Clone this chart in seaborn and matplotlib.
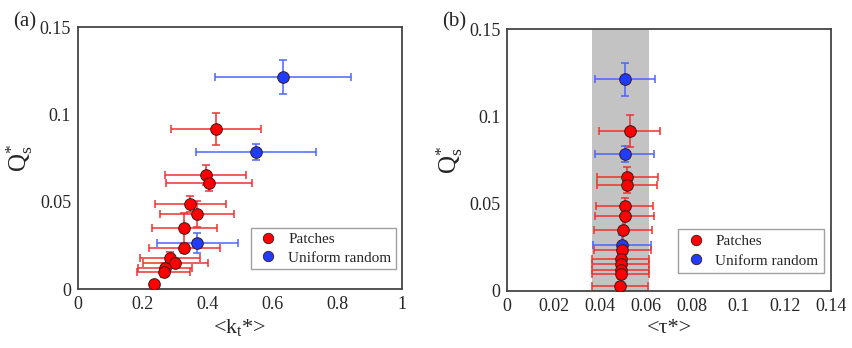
import numpy as np
import pandas as pd
import matplotlib
matplotlib.use("Agg")
import matplotlib.pyplot as plt
import seaborn as sns

# ---- data ----
groups = ["Patches", "Uniform random"]

red_Q = [0.0916, 0.0653, 0.0607, 0.0485, 0.0429, 0.0347, 0.0236, 0.0180, 0.0151, 0.0119, 0.0098, 0.0029]
red_Q_err = [0.0092, 0.0058, 0.0048, 0.0045, 0.0075, 0.0090, 0.0030, 0.0030, 0.0020, 0.0030, 0.0030, 0.0]
red_k = [0.427, 0.394, 0.404, 0.347, 0.368, 0.328, 0.328, 0.285, 0.300, 0.269, 0.265, 0.234]
red_k_err = [0.139, 0.126, 0.133, 0.110, 0.115, 0.100, 0.110, 0.093, 0.100, 0.083, 0.082, 0.0]
red_tau = [0.0530, 0.0519, 0.0517, 0.0507, 0.0508, 0.0500, 0.0497, 0.0491, 0.0491, 0.0491, 0.0491, 0.0488]
red_tau_err = [0.0132, 0.0132, 0.0130, 0.0125, 0.0128, 0.0125, 0.0124, 0.0124, 0.0124, 0.0124, 0.0124, 0.0122]

blue_Q = [0.1214, 0.0786, 0.0263]
blue_Q_err = [0.0095, 0.0045, 0.0058]
blue_k = [0.633, 0.549, 0.368]
blue_k_err = [0.211, 0.185, 0.125]
blue_tau = [0.0510, 0.0507, 0.0496]
blue_tau_err = [0.0129, 0.0127, 0.0124]

band = [0.0366, 0.0614]

x_ticks_a = [0, 0.2, 0.4, 0.6, 0.8, 1]
x_labels_a = ["0", "0.2", "0.4", "0.6", "0.8", "1"]
x_ticks_b = [0, 0.02, 0.04, 0.06, 0.08, 0.1, 0.12, 0.14]
x_labels_b = ["0", "0.02", "0.04", "0.06", "0.08", "0.1", "0.12", "0.14"]
y_ticks = [0, 0.05, 0.1, 0.15]
y_labels = ["0", "0.05", "0.1", "0.15"]

df = pd.DataFrame({
    "Q": red_Q + blue_Q,
    "Qerr": red_Q_err + blue_Q_err,
    "k": red_k + blue_k,
    "kerr": red_k_err + blue_k_err,
    "tau": red_tau + blue_tau,
    "tauerr": red_tau_err + blue_tau_err,
    "group": [groups[0]] * len(red_Q) + [groups[1]] * len(blue_Q),
})

# ---- style ----
sns.set_style("white")
plt.rcParams["font.family"] = ["Liberation Serif", "DejaVu Serif"]
plt.rcParams["mathtext.fontset"] = "custom"
plt.rcParams["mathtext.rm"] = "Liberation Serif"
plt.rcParams["mathtext.it"] = "Liberation Serif:italic"

marker_col = {"Patches": "#ff0000", "Uniform random": "#1f3cff"}
err_col = {"Patches": "#f03030", "Uniform random": "#4a64ff"}

fig = plt.figure(figsize=(8.53, 3.48), dpi=100)
ax_a = fig.add_axes([0.0914, 0.1695, 0.3799, 0.7529])
ax_b = fig.add_axes([0.5947, 0.1647, 0.3795, 0.7511])


def draw(ax, xcol, xerrcol):
    for g in groups[::-1]:
        sub = df[df.group == g]
        ax.errorbar(sub[xcol], sub["Q"], xerr=sub[xerrcol], yerr=sub["Qerr"],
                    fmt="none", ecolor=err_col[g], elinewidth=1.1,
                    capsize=3.2, capthick=1.1, zorder=2)
    for g in groups[::-1]:
        sub = df[df.group == g]
        sns.scatterplot(data=sub, x=xcol, y="Q", ax=ax, color=marker_col[g],
                        s=70, edgecolor="#3a1a1a", linewidth=0.7, zorder=3,
                        legend=False)
    ax.set_ylim(0, 0.15)
    ax.set_yticks(y_ticks)
    ax.set_yticklabels(y_labels)
    ax.tick_params(axis="both", direction="in", length=4, width=1,
                   color="#444444", labelsize=13, pad=5)
    for sp in ax.spines.values():
        sp.set_color("#444444")
        sp.set_linewidth(1.3)
    ax.set_ylabel(r"Q$_{\rm s}^{*}$", fontsize=18, labelpad=3)
    handles = [plt.Line2D([], [], marker="o", ls="none", markersize=7.5,
                          markerfacecolor=marker_col[g], markeredgecolor="#3a1a1a",
                          markeredgewidth=0.6, label=g) for g in groups]
    return handles


h = draw(ax_a, "k", "kerr")
ax_a.set_xlim(0, 1)
ax_a.set_xticks(x_ticks_a)
ax_a.set_xticklabels(x_labels_a)
ax_a.set_xlabel(r"<k$_{\rm t}$*>", fontsize=16, labelpad=3)
leg = ax_a.legend(handles=h, loc="lower right", bbox_to_anchor=(0.981, 0.076),
                  fontsize=11, frameon=True, fancybox=False, edgecolor="#888888",
                  handletextpad=0.5, borderpad=0.3, labelspacing=0.3,
                  handlelength=1.6, borderaxespad=0)
leg.get_frame().set_linewidth(1.0)

ax_b.axvspan(band[0], band[1], color="#c3c3c3", zorder=0, lw=0)
h = draw(ax_b, "tau", "tauerr")
ax_b.set_xlim(0, 0.14)
ax_b.set_xticks(x_ticks_b)
ax_b.set_xticklabels(x_labels_b)
ax_b.set_xlabel("<τ*>", fontsize=16, labelpad=3)
leg = ax_b.legend(handles=h, loc="lower right", bbox_to_anchor=(0.978, 0.067),
                  fontsize=11, frameon=True, fancybox=False, edgecolor="#888888",
                  handletextpad=0.5, borderpad=0.35, labelspacing=0.38,
                  handlelength=1.6, borderaxespad=0)
leg.get_frame().set_linewidth(1.0)

fig.text(0.015, 0.925, "(a)", fontsize=15)
fig.text(0.518, 0.925, "(b)", fontsize=15)

fig.savefig("out.png", dpi=100)
